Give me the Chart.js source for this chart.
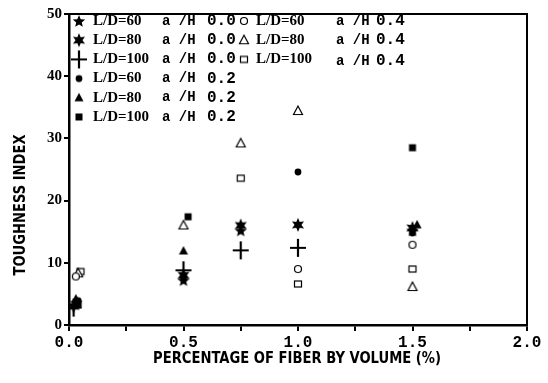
<!DOCTYPE html>
<html>
<head>
<meta charset="utf-8">
<script src="https://cdn.jsdelivr.net/npm/chart.js@4.4.1/dist/chart.umd.min.js"></script>
<style>
html, body { margin: 0; padding: 0; background: #fff; }
</style>
</head>
<body>
<canvas id="chart" width="548" height="383"></canvas>
<script>
// Points: [fiber %, toughness index]
const ld60_ah00 = [[0.03, 3.6], [0.5, 7.2], [0.75, 15.2], [1.5, 15.2]];
const ld80_ah00 = [[0.02, 3.0], [0.5, 8.0], [0.75, 16.0], [1.0, 16.1], [1.5, 15.6]];
const ld100_ah00 = [[0.02, 2.8], [0.5, 8.8], [0.75, 12.0], [1.0, 12.4]];
const ld60_ah02 = [[0.04, 3.9], [0.5, 7.6], [1.0, 24.6], [1.5, 14.8]];
const ld80_ah02 = [[0.03, 4.2], [0.5, 11.9], [1.52, 16.1]];
const ld100_ah02 = [[0.04, 3.4], [0.52, 17.4], [1.5, 28.5]];
const ld60_ah04 = [[0.03, 7.8], [1.0, 9.0], [1.5, 12.9]];
const ld80_ah04 = [[0.04, 8.3], [0.5, 16.0], [0.75, 29.2], [1.0, 34.4], [1.5, 6.1]];
const ld100_ah04 = [[0.05, 8.6], [0.75, 23.6], [1.0, 6.6], [1.5, 9.0]];

const ldLabels = ['L/D=60', 'L/D=80', 'L/D=100', 'L/D=60', 'L/D=80', 'L/D=100', 'L/D=60', 'L/D=80', 'L/D=100'];
const ahLabels = ['0.0', '0.0', '0.0', '0.2', '0.2', '0.2', '0.4', '0.4', '0.4'];
const markerKinds = ['star5', 'star6', 'plus', 'dot', 'tri', 'square', 'ocircle', 'otri', 'osquare'];

const xTitle = 'PERCENTAGE OF FIBER BY VOLUME (%)';
const yTitle = 'TOUGHNESS INDEX';

const seriesPoints = [ld60_ah00, ld80_ah00, ld100_ah00, ld60_ah02, ld80_ah02, ld100_ah02, ld60_ah04, ld80_ah04, ld100_ah04];

// Build small canvases used as point styles (and reused in the legend)
function starPath(g, cx, cy, n, ro, ri) {
    g.beginPath();
    for (let i = 0; i < n * 2; i++) {
        const r = i % 2 === 0 ? ro : ri;
        const a = -Math.PI / 2 + i * Math.PI / n;
        const px = cx + r * Math.cos(a), py = cy + r * Math.sin(a);
        if (i === 0) g.moveTo(px, py); else g.lineTo(px, py);
    }
    g.closePath();
}

function makeMarker(kind) {
    const c = document.createElement('canvas');
    const s = 20;
    c.width = c.height = s;
    const g = c.getContext('2d');
    const cx = s / 2, cy = s / 2;
    g.fillStyle = '#000';
    g.strokeStyle = '#000';
    g.lineWidth = 1.2;
    switch (kind) {
        case 'star5':
            starPath(g, cx, cy + 0.5, 5, 6.5, 2.9); g.fill(); break;
        case 'star6':
            starPath(g, cx, cy, 6, 7, 3.4); g.fill(); break;
        case 'plus':
            g.lineWidth = 2.2;
            g.beginPath();
            g.moveTo(cx - 8, cy); g.lineTo(cx + 8, cy);
            g.moveTo(cx, cy - 9); g.lineTo(cx, cy + 9);
            g.stroke(); break;
        case 'dot':
            g.beginPath(); g.arc(cx, cy, 3.4, 0, Math.PI * 2); g.fill(); break;
        case 'tri':
            g.beginPath(); g.moveTo(cx, cy - 5); g.lineTo(cx + 4.5, cy + 3.5); g.lineTo(cx - 4.5, cy + 3.5); g.closePath(); g.fill(); break;
        case 'square':
            g.fillRect(cx - 3.5, cy - 3.5, 7, 7); break;
        case 'ocircle':
            g.fillStyle = '#fff';
            g.beginPath(); g.arc(cx, cy, 3.5, 0, Math.PI * 2); g.fill(); g.stroke(); break;
        case 'otri':
            g.fillStyle = '#fff';
            g.beginPath(); g.moveTo(cx, cy - 5); g.lineTo(cx + 4.5, cy + 3.5); g.lineTo(cx - 4.5, cy + 3.5); g.closePath(); g.fill(); g.stroke(); break;
        case 'osquare':
            g.fillStyle = '#fff';
            g.fillRect(cx - 3.5, cy - 3, 7, 6); g.strokeRect(cx - 3.5, cy - 3, 7, 6); break;
    }
    return c;
}

const markers = markerKinds.map(makeMarker);

const datasets = seriesPoints.map((pts, i) => ({
    label: ldLabels[i] + ' a/H ' + ahLabels[i],
    data: pts.map(p => ({ x: p[0], y: p[1] })),
    pointStyle: markers[i],
    pointRadius: 5,
    showLine: false
}));

// Frame, legend and axis titles
const overlay = {
    id: 'overlay',
    afterDraw(chart) {
        const { ctx, chartArea: a } = chart;
        ctx.save();
        ctx.strokeStyle = '#000';
        ctx.lineWidth = 2;
        ctx.strokeRect(a.left, a.top, a.right - a.left, a.bottom - a.top);

        // legend: two columns inside the plot
        ctx.fillStyle = '#000';
        ctx.textBaseline = 'middle';
        ctx.textAlign = 'left';
        for (let i = 0; i < markers.length; i++) {
            const col = i < 6 ? 0 : 1;
            const row = col === 0 ? i : i - 6;
            const y = 21 + row * 19.2;
            const mx = col === 0 ? 79 : 244;
            const tx = col === 0 ? 93 : 256;
            const ax = col === 0 ? 162 : 336;
            const vx = col === 0 ? 207 : 376;
            const m = markers[i];
            ctx.drawImage(m, mx - m.width / 2, y - m.height / 2);
            ctx.font = 'bold 15px "Liberation Serif", serif';
            ctx.fillText(ldLabels[i], tx, y);
            ctx.font = 'bold 14px "Liberation Mono", monospace';
            ctx.fillText('a /H', ax, y + (i === 8 ? 2 : 0));
            ctx.font = 'bold 16px "Liberation Mono", monospace';
            ctx.fillText(ahLabels[i], vx, y + (i === 8 ? 2 : 0));
        }

        // axis titles, squeezed to the widths seen on the reference
        ctx.font = 'bold 15px "DejaVu Sans Condensed", "DejaVu Sans", sans-serif';
        ctx.textAlign = 'center';
        let w = ctx.measureText(xTitle).width;
        ctx.save();
        ctx.translate(297, 359);
        ctx.scale(288 / w, 1);
        ctx.fillText(xTitle, 0, 0);
        ctx.restore();

        w = ctx.measureText(yTitle).width;
        ctx.save();
        ctx.translate(21, 205);
        ctx.rotate(-Math.PI / 2);
        ctx.scale(141 / w, 1);
        ctx.fillText(yTitle, 0, 0);
        ctx.restore();

        ctx.restore();
    }
};

new Chart(document.getElementById('chart'), {
    type: 'scatter',
    data: { datasets },
    options: {
        responsive: false,
        animation: false,
        devicePixelRatio: 1,
        layout: { padding: { top: 14, right: 21, left: 0, bottom: 0 } },
        plugins: {
            legend: { display: false },
            tooltip: { enabled: false }
        },
        scales: {
            x: {
                type: 'linear',
                min: 0,
                max: 2,
                ticks: {
                    stepSize: 0.25,
                    autoSkip: false,
                    maxRotation: 0,
                    padding: 2,
                    color: '#000',
                    font: { family: '"Liberation Mono", monospace', weight: 'bold', size: 16 },
                    callback: v => Math.abs(v * 2 - Math.round(v * 2)) < 1e-6 ? v.toFixed(1) : ''
                },
                grid: { drawOnChartArea: false, tickLength: 6, color: '#000', lineWidth: 2 },
                border: { color: '#000', width: 2.5 },
                afterFit: s => { s.height = 58; }
            },
            y: {
                min: 0,
                max: 50,
                ticks: {
                    stepSize: 10,
                    padding: 2,
                    color: '#000',
                    font: { family: '"Liberation Serif", serif', weight: 'bold', size: 15 }
                },
                grid: { drawOnChartArea: false, tickLength: 5, color: '#000', lineWidth: 2 },
                border: { color: '#000', width: 2.5 },
                afterFit: s => { s.width = 69; }
            }
        }
    },
    plugins: [overlay]
});
</script>
</body>
</html>
